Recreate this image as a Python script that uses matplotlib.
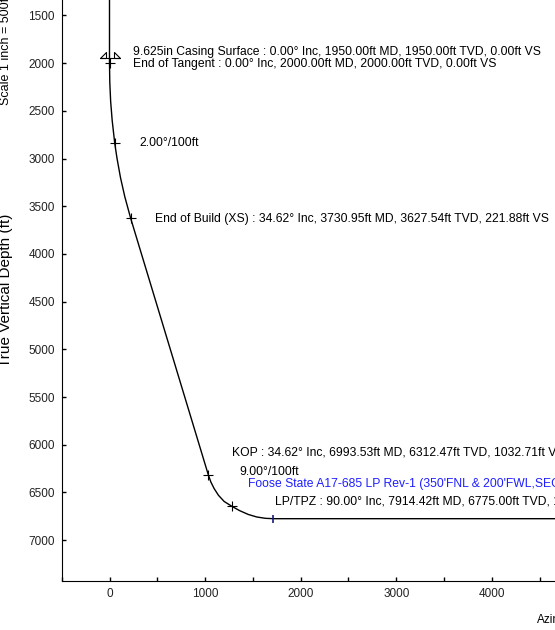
import numpy as np
import matplotlib.pyplot as plt
from matplotlib.path import Path

plt.rcParams['font.family'] = ['Liberation Sans', 'DejaVu Sans']

# well path: vertical section (ft) vs true vertical depth (ft)
vs = [0, 0, 3, 12, 28, 55, 79, 115, 160, 221.88,
      1032.71, 1060, 1095, 1140, 1200, 1283, 1360, 1450, 1540, 1630, 1715, 5500]
tvd = [0, 2000, 2200, 2400, 2600, 2842, 3000, 3200, 3400, 3627.54,
       6312.47, 6390, 6460, 6530, 6595, 6647, 6690, 6730, 6757, 6771, 6775, 6775]

# survey markers
mark_vs = [0, 55, 221.88, 1032.71, 1283]
mark_tvd = [2000, 2842, 3627.54, 6312.47, 6647]
lp_vs, lp_tvd = 1715, 6775
casing_vs, casing_tvd = 0, 1950

labels = [
    (249, 1886, "9.625in Casing Surface : 0.00° Inc, 1950.00ft MD, 1950.00ft TVD, 0.00ft VS", 'black'),
    (249, 2014, "End of Tangent : 0.00° Inc, 2000.00ft MD, 2000.00ft TVD, 0.00ft VS", 'black'),
    (311, 2842, "2.00°/100ft", 'black'),
    (478, 3638, "End of Build (XS) : 34.62° Inc, 3730.95ft MD, 3627.54ft TVD, 221.88ft VS", 'black'),
    (1283, 6081, "KOP : 34.62° Inc, 6993.53ft MD, 6312.47ft TVD, 1032.71ft VS", 'black'),
    (1357, 6290, "9.00°/100ft", 'black'),
    (1451, 6416, "Foose State A17-685 LP Rev-1 (350'FNL & 200'FWL,SEC 17)", '#1f1fff'),
    (1733, 6594, "LP/TPZ : 90.00° Inc, 7914.42ft MD, 6775.00ft TVD, 1715.00ft VS", 'black'),
]

W, H = 555, 630
fig = plt.figure(figsize=(W / 100, H / 100), dpi=100)

x0, x1 = -500, 5500
y0, y1 = 1000, 7425
pxx = 95.6 / 1000
pxy = 95.4 / 1000
left, bottom = 61.7, 580.7
ax = fig.add_axes([left / W, 1 - bottom / H, (x1 - x0) * pxx / W, (y1 - y0) * pxy / H])

ax.plot(vs, tvd, 'k-', lw=1.0)
ax.plot(mark_vs, mark_tvd, 'k+', ms=6.5, mew=0.8)
ax.plot([lp_vs], [lp_tvd], '|', color='#1a1a80', ms=6, mew=1.2)

# casing shoe symbol
verts = [(-1, 0), (-0.4, 0), (-0.4, 0.6), (-1, 0),
         (0.4, 0), (1, 0), (0.4, 0.6), (0.4, 0),
         (-1, 0), (1, 0)]
codes = [Path.MOVETO, Path.LINETO, Path.LINETO, Path.CLOSEPOLY,
         Path.MOVETO, Path.LINETO, Path.LINETO, Path.CLOSEPOLY,
         Path.MOVETO, Path.LINETO]
ax.plot([casing_vs], [casing_tvd], marker=Path(verts, codes), ms=14.4,
        mfc='none', mec='k', mew=0.8, ls='none')

for x, y, s, c in labels:
    ax.text(x, y, s, fontsize=8.7, color=c, ha='left', va='center', clip_on=False)

ax.set_xlim(x0, x1)
ax.set_ylim(y1, y0)
ax.set_xticks(np.arange(0, 5001, 1000))
ax.set_xticks(np.arange(-500, 5501, 1000), minor=True)
ax.set_yticks(np.arange(1500, 7001, 500))
ax.tick_params(which='both', direction='in', length=3, width=1, labelsize=8.5,
               labelcolor='#222222', pad=5)
ax.spines['top'].set_visible(False)
ax.spines['right'].set_visible(False)

fig.text(13 / W, 1 - 290 / H, "True Vertical Depth (ft)", rotation=90,
         ha='right', va='center', fontsize=11)
fig.text(6 / W, 1 - 105 / H, "Scale 1 inch = 500ft", rotation=90,
         ha='center', va='bottom', fontsize=9)
fig.text(537 / W, 1 - 620 / H, "Azimuth", ha='left', va='center', fontsize=8.5)

fig.savefig('out.png', dpi=100)
